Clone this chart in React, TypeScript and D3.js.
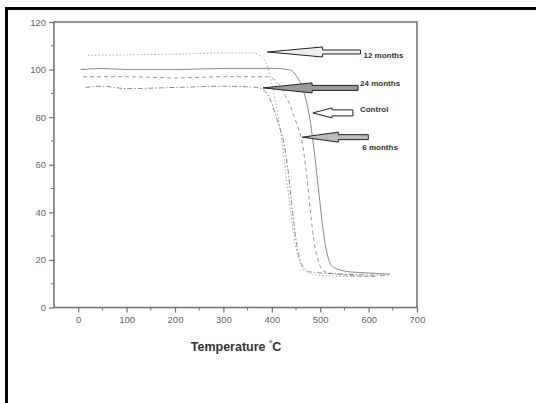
import React, { useEffect, useRef } from 'react';
import * as d3 from 'd3';

// TGA curves: [temperature °C, weight %]
const control = [
  [5, 100], [50, 100.5], [100, 100], [200, 100], [300, 100.5], [400, 100.5], [435, 100],
  [452, 97], [464, 92], [472, 86], [479, 79], [485, 70], [492, 58], [499, 45], [507, 31],
  [515, 22], [527, 17], [560, 15], [600, 14.5], [645, 14],
];
const sixMonths = [
  [10, 97], [100, 97], [200, 96.5], [300, 97], [390, 97], [410, 95], [425, 90], [440, 84],
  [450, 78], [462, 70], [472, 56], [480, 40], [487, 28], [497, 19], [510, 15], [560, 13.5],
  [620, 13],
];
const twelveMonths = [
  [20, 106], [100, 106.2], [200, 106.5], [300, 107], [360, 107], [385, 104], [398, 96],
  [408, 86], [418, 74], [428, 58], [438, 42], [448, 27], [458, 19], [470, 15], [500, 13.5],
  [560, 13], [610, 13],
];
const twentyFourMonths = [
  [15, 92.5], [50, 93], [100, 92], [200, 92.5], [300, 93], [370, 92.5], [390, 90], [403, 84],
  [414, 77], [424, 70], [434, 57], [443, 40], [452, 26], [462, 18], [478, 15], [550, 14],
  [640, 13.5],
];

const xTicks = [0, 100, 200, 300, 400, 500, 600, 700];
const yTicks = [0, 20, 40, 60, 80, 100, 120];

// arrow labels with tip position in data units
const arrowLabels = ['12 months', '24 months', 'Control', '6 months'];
const arrowTips = [[391, 107.4], [382, 92.3], [485, 81.8], [463, 71.6]];

export default function App() {
  const svgRef = useRef<SVGSVGElement>(null);

  useEffect(() => {
    const svg = d3.select(svgRef.current);
    svg.selectAll('*').remove();

    const x = d3.scaleLinear().domain([-50, 700]).range([54, 417]);
    const y = d3.scaleLinear().domain([0, 120]).range([307.5, 22]);
    const font = 'Liberation Sans, Arial, sans-serif';

    // outer frame (top and left only)
    svg.append('line').attr('x1', 5).attr('x2', 536).attr('y1', 8.5).attr('y2', 8.5)
      .attr('stroke', '#000').attr('stroke-width', 3);
    svg.append('line').attr('x1', 6.5).attr('x2', 6.5).attr('y1', 7).attr('y2', 403)
      .attr('stroke', '#000').attr('stroke-width', 3);

    const axisColor = '#6f6f6f';

    // curves
    const line = d3.line<number[]>().x(d => x(d[0])).y(d => y(d[1])).curve(d3.curveMonotoneX);
    const series = [
      { data: twelveMonths, dash: '1.5,2', color: '#aaa' },
      { data: control, dash: null, color: '#8a8a8a' },
      { data: sixMonths, dash: '4,3', color: '#999' },
      { data: twentyFourMonths, dash: '5,2,1.5,2', color: '#8a8a8a' },
    ];
    series.forEach(s => {
      svg.append('path').attr('d', line(s.data)).attr('fill', 'none')
        .attr('stroke', s.color).attr('stroke-width', 1)
        .attr('stroke-dasharray', s.dash);
    });

    // plot frame
    const g = svg.append('g');
    g.append('rect').attr('x', x(-50)).attr('y', y(120))
      .attr('width', x(700) - x(-50)).attr('height', y(0) - y(120))
      .attr('fill', 'none').attr('stroke', axisColor).attr('stroke-width', 1.5);

    // y axis
    const yAxis = g.append('g').attr('transform', `translate(${x(-50)},0)`)
      .call(d3.axisLeft(y).tickValues(yTicks).tickSize(5).tickPadding(3));
    yAxis.select('.domain').remove();
    yAxis.append('g').selectAll('line').data(d3.range(10, 120, 20)).join('line')
      .attr('x1', -3).attr('x2', 0).attr('y1', d => y(d)).attr('y2', d => y(d))
      .attr('stroke', axisColor);

    // x axis
    const xAxis = g.append('g').attr('transform', `translate(0,${y(0)})`)
      .call(d3.axisBottom(x).tickValues(xTicks).tickSize(5).tickPadding(4));
    xAxis.select('.domain').remove();
    xAxis.append('g').selectAll('line').data(d3.range(50, 700, 100)).join('line')
      .attr('x1', d => x(d)).attr('x2', d => x(d)).attr('y1', 0).attr('y2', 3)
      .attr('stroke', axisColor);

    g.selectAll('.tick line').attr('stroke', axisColor).attr('stroke-width', 1.2);
    g.selectAll('.tick text').attr('fill', '#666').attr('font-size', 9.5)
      .attr('font-family', font);

    // axis title
    const title = svg.append('text').attr('x', 236).attr('y', 351)
      .attr('text-anchor', 'middle').attr('font-family', font)
      .attr('font-weight', 'bold').attr('font-size', 12.5).attr('fill', '#333');
    title.append('tspan').text('Temperature ');
    title.append('tspan').attr('font-size', 8).attr('dy', -5).text('°');
    title.append('tspan').attr('dy', 5).text('C');

    // block arrows (head length, shaft end offset in px)
    const geom = [
      { head: 55, len: 93, hh: 5, sh: 2, labelDx: 96, labelDy: 3, fill: '#eee' },
      { head: 49, len: 95, hh: 5, sh: 2.5, labelDx: 97, labelDy: -5, fill: '#999' },
      { head: 19, len: 40, hh: 5, sh: 3, labelDx: 47, labelDy: -4, fill: '#fff' },
      { head: 36, len: 66, hh: 5, sh: 2.5, labelDx: 60, labelDy: 10, fill: '#bbb' },
    ];
    arrowLabels.forEach((label, i) => {
      const tx = x(arrowTips[i][0]);
      const ty = y(arrowTips[i][1]);
      const a = geom[i];
      const pts: [number, number][] = [
        [tx, ty], [tx + a.head, ty - a.hh], [tx + a.head, ty - a.sh], [tx + a.len, ty - a.sh],
        [tx + a.len, ty + a.sh], [tx + a.head, ty + a.sh], [tx + a.head, ty + a.hh],
      ];
      svg.append('polygon').attr('points', pts.map(p => p.join(',')).join(' '))
        .attr('fill', a.fill).attr('stroke', '#222').attr('stroke-width', 1);
      svg.append('text').attr('x', tx + a.labelDx).attr('y', ty + a.labelDy + 3)
        .attr('font-family', font).attr('font-weight', 'bold')
        .attr('font-size', 8).attr('fill', '#333').text(label);
    });
  }, []);

  return (
    <svg ref={svgRef} width={536} height={403}
      style={{ position: 'absolute', left: 0, top: 0, background: '#fff' }} />
  );
}
